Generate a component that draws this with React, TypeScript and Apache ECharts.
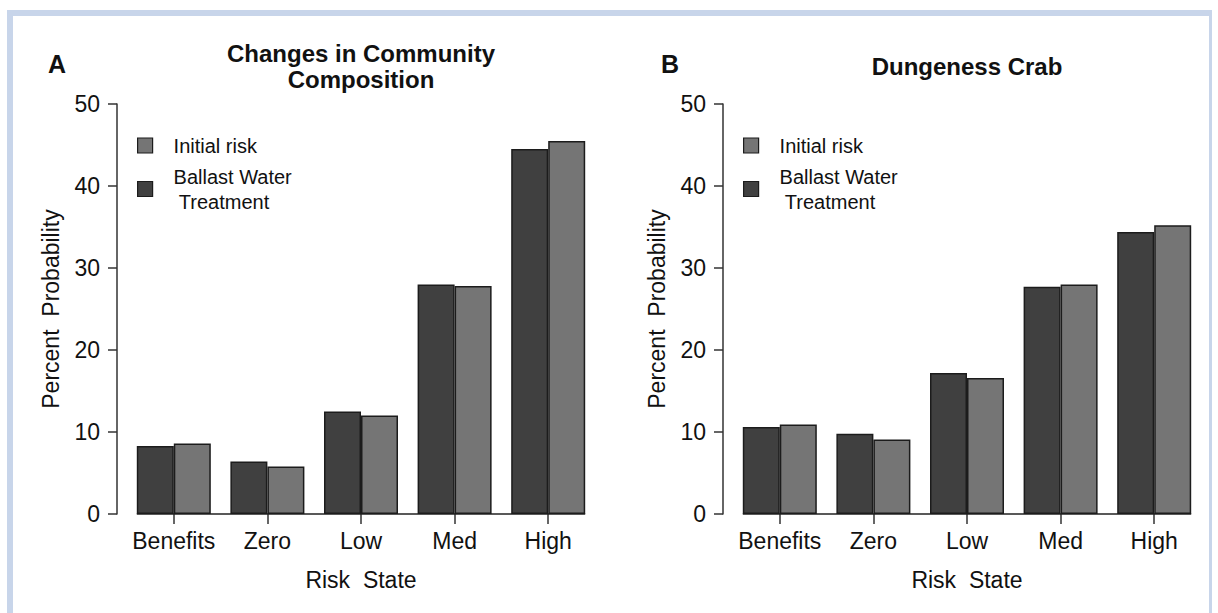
import React, { useEffect, useRef } from "react";
import * as echarts from "echarts";

const categories = ["Benefits", "Zero", "Low", "Med", "High"];
const yTickMin = 0;
const yTickMax = 50;
const yTickStep = 10;

const seriesNames = ["Initial risk", "Ballast Water\n Treatment"];

const communityBallast = [8.3, 6.4, 12.5, 28.0, 44.5];
const communityInitial = [8.6, 5.8, 12.0, 27.8, 45.5];
const crabBallast = [10.6, 9.8, 17.2, 27.7, 34.4];
const crabInitial = [10.9, 9.1, 16.6, 28.0, 35.2];

const panelTitles = ["Changes in Community\nComposition", "Dungeness Crab"];
const panelLetters = ["A", "B"];
const xAxisTitle = "Risk  State";
const yAxisTitle = "Percent  Probability";

const FONT = "'Liberation Sans', Arial, Helvetica, sans-serif";
const DARK = "#404040";
const LIGHT = "#757575";
const EDGE = "#1c1c1c";
const TEXT = "#111111";
const BAR_WIDTH = 37;

const panels = [
  { left: 127, ballast: communityBallast, initial: communityInitial, letterX: 48, legendLeft: 137 },
  { left: 733, ballast: crabBallast, initial: crabInitial, letterX: 661, legendLeft: 743 },
];
const GRID_W = 468;
const GRID_TOP = 104;
const GRID_H = 410;

export default function App() {
  const ref = useRef<HTMLDivElement>(null);

  useEffect(() => {
    if (!ref.current) return;
    const chart = echarts.init(ref.current, null, { renderer: "svg" });

    const grid = panels.map((p) => ({
      left: p.left,
      top: GRID_TOP,
      width: GRID_W,
      height: GRID_H,
      containLabel: false,
    }));

    const xAxis = panels.map((_, i) => ({
      type: "category",
      gridIndex: i,
      data: categories,
      axisLine: { show: false },
      axisTick: {
        show: true,
        alignWithLabel: true,
        length: 10,
        lineStyle: { color: "#333", width: 1.5 },
      },
      axisLabel: { fontSize: 23, color: TEXT, fontFamily: FONT, margin: 15, interval: 0 },
      name: xAxisTitle,
      nameLocation: "middle",
      nameGap: 54,
      nameTextStyle: { fontSize: 23, color: TEXT, fontFamily: FONT },
      splitLine: { show: false },
    }));

    const yAxis = panels.map((_, i) => ({
      type: "value",
      gridIndex: i,
      min: yTickMin,
      max: yTickMax,
      interval: yTickStep,
      offset: 10,
      axisLine: { show: true, lineStyle: { color: "#333", width: 1.5 } },
      axisTick: { show: true, length: 9, lineStyle: { color: "#333", width: 1.5 } },
      axisLabel: { fontSize: 23, color: TEXT, fontFamily: FONT, margin: 17 },
      splitLine: { show: false },
      name: yAxisTitle,
      nameLocation: "middle",
      nameGap: 55,
      nameRotate: 90,
      nameTextStyle: { fontSize: 23, color: TEXT, fontFamily: FONT },
    }));

    const series: any[] = [];
    panels.forEach((p, i) => {
      series.push({
        type: "bar",
        name: seriesNames[1],
        xAxisIndex: i,
        yAxisIndex: i,
        data: p.ballast,
        barWidth: BAR_WIDTH,
        barGap: "0%",
        itemStyle: { color: DARK, borderColor: EDGE, borderWidth: 1.5 },
        z: 4,
      });
      series.push({
        type: "bar",
        name: seriesNames[0],
        xAxisIndex: i,
        yAxisIndex: i,
        data: p.initial,
        barWidth: BAR_WIDTH,
        barGap: "0%",
        itemStyle: { color: LIGHT, borderColor: EDGE, borderWidth: 1.5 },
        z: 4,
      });
      series.push({
        type: "custom",
        xAxisIndex: i,
        yAxisIndex: i,
        silent: true,
        z: 3,
        data: [[0, 0]],
        renderItem: (_params: any, api: any) => {
          const start = api.coord([0, 0]);
          const end = api.coord([categories.length - 1, 0]);
          return {
            type: "line",
            shape: {
              x1: start[0] - BAR_WIDTH,
              y1: start[1],
              x2: end[0] + BAR_WIDTH,
              y2: end[1],
            },
            style: { stroke: "#222", lineWidth: 1.5 },
          };
        },
      });
    });

    const legend = panels.map((p) => ({
      data: seriesNames,
      orient: "vertical",
      left: p.legendLeft,
      top: 133,
      padding: 0,
      itemWidth: 15,
      itemHeight: 15,
      itemGap: 6,
      icon: "rect",
      selectedMode: false,
      itemStyle: { borderColor: EDGE, borderWidth: 1.2 },
      textStyle: {
        fontSize: 20,
        lineHeight: 25,
        color: TEXT,
        fontFamily: FONT,
        padding: [0, 0, 0, 16],
      },
    }));

    const frameColor = "#c8d5ea";
    const graphic: any[] = [
      { type: "rect", shape: { x: 7, y: 10, width: 1205, height: 6 }, style: { fill: frameColor }, silent: true },
      { type: "rect", shape: { x: 7, y: 10, width: 6, height: 603 }, style: { fill: frameColor }, silent: true },
      { type: "rect", shape: { x: 1209, y: 10, width: 3, height: 603 }, style: { fill: frameColor }, silent: true },
    ];
    panels.forEach((p, i) => {
      graphic.push({
        type: "text",
        x: p.letterX,
        y: 64,
        style: {
          text: panelLetters[i],
          font: `bold 25px ${FONT}`,
          fill: TEXT,
          textAlign: "left",
          textVerticalAlign: "middle",
        },
      });
      graphic.push({
        type: "text",
        x: p.left + GRID_W / 2,
        y: 66,
        style: {
          text: panelTitles[i],
          font: `bold 24px ${FONT}`,
          lineHeight: 26,
          fill: TEXT,
          textAlign: "center",
          textVerticalAlign: "middle",
        },
      });
    });

    chart.setOption({
      animation: false,
      backgroundColor: "#ffffff",
      textStyle: { fontFamily: FONT },
      grid,
      xAxis,
      yAxis,
      legend,
      series,
      graphic,
    });

    return () => chart.dispose();
  }, []);

  return (
    <div
      ref={ref}
      style={{ position: "absolute", left: 0, top: 0, width: 1218, height: 613, background: "#fff" }}
    />
  );
}
